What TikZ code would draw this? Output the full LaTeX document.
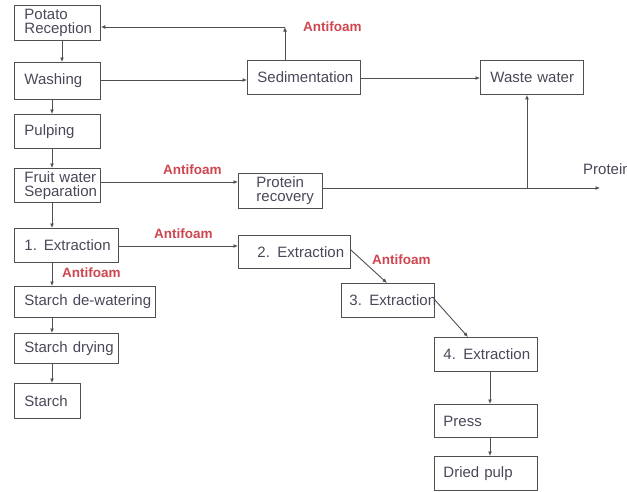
\documentclass[tikz,border=0pt]{standalone}
\usepackage{fontspec}
\setmainfont{Liberation Sans}
\usetikzlibrary{arrows.meta}
\definecolor{txt}{RGB}{72,72,88}
\definecolor{linec}{RGB}{80,80,80}
\definecolor{afred}{RGB}{205,70,80}
\tikzset{
  pb/.style={draw=linec, line width=0.9pt, anchor=north west, inner xsep=0pt, inner ysep=0pt,
    align=left, text=txt, font=\fontsize{15}{14}\selectfont},
  arr/.style={draw=linec, line width=0.9pt, -{Latex[length=4.5pt,width=4pt]}},
  af/.style={text=afred, font=\fontsize{13.5}{14}\selectfont\bfseries, inner sep=0pt, anchor=west}
}
\begin{document}
\begin{tikzpicture}[x=1pt,y=-1pt]
\useasboundingbox (0,0) rectangle (627,491);
\clip (0,0) rectangle (627,491);
% left column
\node[pb, text width=86pt, minimum height=35pt] (pot) at (14,5) {\hspace*{10pt}Potato\\\hspace*{10pt}Reception};
\node[pb, text width=86pt, minimum height=37pt] (wash) at (14,62) {\hspace*{10pt}Washing};
\node[pb, text width=86pt, minimum height=34pt] (pulp) at (14,114) {\hspace*{10pt}Pulping};
\node[pb, text width=86pt, minimum height=34pt] (fruit) at (14,168) {\hspace*{10pt}Fruit water\\\hspace*{10pt}Separation};
\node[pb, text width=104pt, minimum height=34pt] (ext1) at (14,228) {\hspace*{10pt}1.\hspace{7pt}Extraction};
\node[pb, text width=141pt, minimum height=31pt] (dew) at (14,286) {\hspace*{10pt}\mbox{Starch de-watering}};
\node[pb, text width=104pt, minimum height=30pt] (dry) at (14,333) {\hspace*{10pt}\mbox{Starch drying}};
\node[pb, text width=66pt, minimum height=35pt] (starch) at (14,383) {\hspace*{10pt}Starch};
% right part
\node[pb, text width=113pt, minimum height=34pt] (sed) at (247,60) {\hspace*{10pt}\mbox{Sedimentation}};
\node[pb, text width=103pt, minimum height=34pt] (waste) at (480,60) {\hspace*{10pt}\mbox{Waste water}};
\node[pb, text width=84pt, minimum height=35pt] (prot) at (238,173) {\hspace*{18pt}Protein\\\hspace*{18pt}recovery};
\node[pb, text width=112pt, minimum height=33pt] (ext2) at (238,235) {\hspace*{19pt}\mbox{2. Extraction}\\[5pt]};
\node[pb, text width=93pt, minimum height=34pt] (ext3) at (341,283) {\hspace*{8pt}\mbox{3. Extraction}};
\node[pb, text width=103pt, minimum height=34pt] (ext4) at (434,337) {\hspace*{9pt}\mbox{4. Extraction}};
\node[pb, text width=103pt, minimum height=33pt] (press) at (434,404) {\hspace*{9pt}Press\\[9pt]};
\node[pb, text width=103pt, minimum height=34pt] (dried) at (434,456) {\hspace*{9pt}\mbox{Dried pulp}};
% free ends
\coordinate (tl) at (285,27);
\coordinate (pend) at (600,188);
\coordinate (pj) at (527,188);
% labels
\node[af] (af1) at (303,27) {Antifoam};
\node[af] (af2) at (163,170) {Antifoam};
\node[af] (af3) at (154,234) {Antifoam};
\node[af] (af4) at (62,273) {Antifoam};
\node[af] (af5) at (372,260) {Antifoam};
\node[anchor=west, inner sep=0pt, text=txt, font=\fontsize{15}{14}\selectfont] (ptxt) at (583,169) {Protein};
% connectors left column
\draw[arr] (62,0 |- pot.south) -- (62,0 |- wash.north);
\draw[arr] (52,0 |- wash.south) -- (52,0 |- pulp.north);
\draw[arr] (52,0 |- pulp.south) -- (52,0 |- fruit.north);
\draw[arr] (52,0 |- fruit.south) -- (52,0 |- ext1.north);
\draw[arr] (52,0 |- ext1.south) -- (52,0 |- dew.north);
\draw[arr] (52,0 |- dew.south) -- (52,0 |- dry.north);
\draw[arr] (52,0 |- dry.south) -- (52,0 |- starch.north);
% horizontal flows
\draw[arr] (wash.east |- 0,80) -- (sed.west |- 0,80);
\draw[arr] (sed.east |- 0,78) -- (waste.west |- 0,78);
\draw[arr] (285,0 |- sed.north) -- (tl);
\draw[arr] (tl) -- (pot.east |- tl);
\draw[arr] (fruit.east |- 0,182) -- (prot.west |- 0,182);
\draw[arr] (prot.east |- pend) -- (pend);
\draw[arr] (pj) -- (pj |- waste.south);
\draw[arr] (ext1.east |- 0,246) -- (ext2.west |- 0,246);
\draw[arr] (ext2.east |- 0,250) -- (387,0 |- ext3.north);
\draw[arr] (ext3.east |- 0,300) -- (468,0 |- ext4.north);
\draw[arr] (490,0 |- ext4.south) -- (490,0 |- press.north);
\draw[arr] (490,0 |- press.south) -- (490,0 |- dried.north);
\end{tikzpicture}
\end{document}
